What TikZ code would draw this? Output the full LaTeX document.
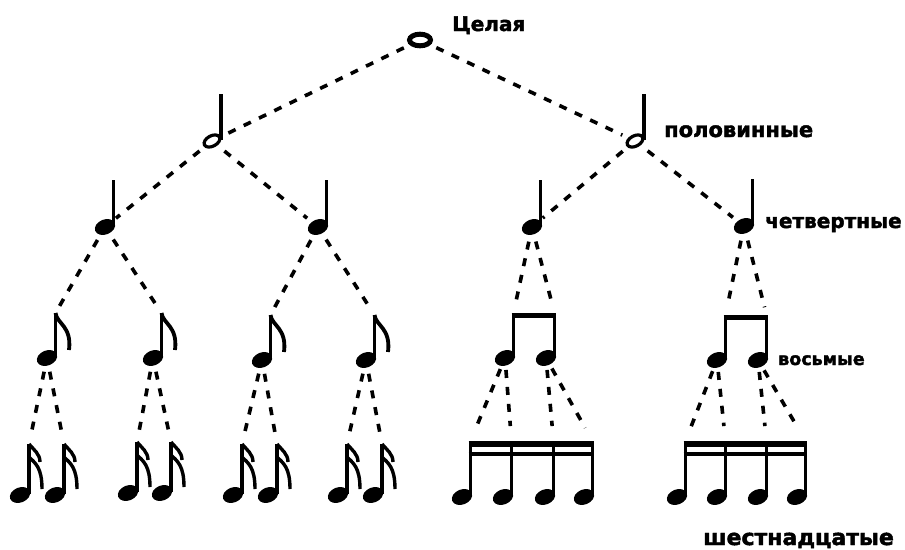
\documentclass[tikz,border=0pt]{standalone}
\usepackage{fontspec}
\setmainfont{DejaVu Sans}
\newfontfamily\labelfont[FakeBold=2]{DejaVu Sans}
\usetikzlibrary{calc}

\tikzset{
  link/.style={line width=3.6pt, dash pattern=on 8pt off 9pt},
  stem/.style={line width=3.8pt},
  notelabel/.style={anchor=base west, inner sep=0pt},
  % note shapes, head at the origin
  whole/.pic={\draw[line width=5pt] (0,0) ellipse [x radius=10.5, y radius=5.8];},
  half/.pic={\draw[line width=3.2pt, rotate=28] (0,0) ellipse [x radius=8.5, y radius=5.2];
    \draw[stem] (9,-1) -- (9,-47);
    \coordinate (-top) at (9,-47);},
  stemmed/.pic={\fill[rotate=22] (0,0) ellipse [x radius=10.5, y radius=7.5];
    \draw[stem] (8.5,-1) -- (8.5,-#1);
    \coordinate (-top) at (8.5,-#1);},
  eighth/.pic={\fill[rotate=22] (0,0) ellipse [x radius=10.5, y radius=7.5];
    \draw[stem] (8.5,-1) -- (8.5,-45);
    \draw[line width=3.8pt] (8.5,-45) .. controls (10,-34) and (25,-32) .. (22,-8);
    \coordinate (-top) at (8.5,-45);},
  sixteenth/.pic={\fill[rotate=22] (0,0) ellipse [x radius=10.5, y radius=7.5];
    \draw[stem] (9,-1) -- (9,-51);
    \draw[line width=3.4pt] (9,-51) .. controls (14,-45) and (20,-41) .. (20,-33);
    \draw[line width=3.4pt] (9,-38) .. controls (15,-32) and (22,-28) .. (22,-6);
    \coordinate (-top) at (9,-51);}
}

\begin{document}
\begin{tikzpicture}[x=1pt,y=-1pt]
\useasboundingbox (0,0) rectangle (905,549);

% whole and halves
\coordinate (w) at (420,40);
\coordinate (h1) at (212,141);
\coordinate (h2) at (635,141);
\pic at (w) {whole};
\pic (h1) at (h1) {half};
\pic (h2) at (h2) {half};

% quarters
\coordinate (q1) at (105,227);
\coordinate (q2) at (318,227);
\coordinate (q3) at (532,227);
\coordinate (q4) at (744,226);
\foreach \n in {q1,q2,q3,q4}
  \pic (\n) at (\n) {stemmed=47};

% eighths
\coordinate (e1) at (47,358);
\coordinate (e2) at (153,358);
\coordinate (e3) at (262,360);
\coordinate (e4) at (366,360);
\foreach \n in {e1,e2,e3,e4}
  \pic (\n) at (\n) {eighth};
\coordinate (b1) at (505,358);
\coordinate (b2) at (546,358);
\coordinate (b3) at (717,360);
\coordinate (b4) at (758,360);
\foreach \n in {b1,b2,b3,b4}
  \pic (\n) at (\n) {stemmed=45};
\draw[line width=5.5pt] ($(b1-top)+(-1.9,2.7)$) -- ($(b2-top)+(1.9,2.7)$);
\draw[line width=5.5pt] ($(b3-top)+(-1.9,2.7)$) -- ($(b4-top)+(1.9,2.7)$);

% sixteenths
\foreach \n/\x/\y in {s1/20/495, s2/55/495, s3/128/493, s4/162/493,
                      s5/233/495, s6/268/495, s7/338/495, s8/373/495} {
  \coordinate (\n) at (\x,\y);
  \pic (\n) at (\n) {sixteenth};
}
\foreach \n/\x in {t1/462, t2/503, t3/545, t4/584, t5/677, t6/717, t7/758, t8/797} {
  \coordinate (\n) at (\x,497);
  \pic (\n) at (\n) {stemmed=56};
}
\draw[line width=6.5pt] ($(t1-top)+(-1.9,3.2)$) -- ($(t4-top)+(1.9,3.2)$);
\draw[line width=3.8pt] ($(t1-top)+(-1.9,13)$) -- ($(t4-top)+(1.9,13)$);
\draw[line width=6.5pt] ($(t5-top)+(-1.9,3.2)$) -- ($(t8-top)+(1.9,3.2)$);
\draw[line width=3.8pt] ($(t5-top)+(-1.9,13)$) -- ($(t8-top)+(1.9,13)$);

% dashed links
\draw[link, shorten <=18pt, shorten >=14pt] (w) -- (h1);
\draw[link, shorten <=18pt, shorten >=14pt] (w) -- (h2);
\foreach \a/\b in {h1/q1, h1/q2, h2/q3, h2/q4}
  \draw[link, shorten <=16pt, shorten >=14pt] (\a) -- (\b);
\foreach \a/\b in {q1/e1, q1/e2, q2/e3, q2/e4, q3/b1, q3/b2, q4/b3, q4/b4}
  \draw[link, shorten <=15pt, shorten >=8pt] (\a) -- (\b-top);
\foreach \a/\b in {e1/s1, e1/s2, e2/s3, e2/s4, e3/s5, e3/s6, e4/s7, e4/s8}
  \draw[link, shorten <=14pt, shorten >=10pt] (\a) -- (\b-top);
\foreach \a/\b in {b1/t1, b1/t2, b2/t3, b2/t4, b3/t5, b3/t6, b4/t7, b4/t8}
  \draw[link, shorten <=12pt, shorten >=15pt] (\a) -- (\b-top);

% labels
\node (lw) [notelabel, font=\labelfont\bfseries\fontsize{20}{21}\selectfont] at (452,31) {Целая};
\node (lh) [notelabel, font=\labelfont\bfseries\fontsize{21}{22}\selectfont] at (664,137) {половинные};
\node (lq) [notelabel, font=\labelfont\bfseries\fontsize{20}{21}\selectfont] at (765,228) {четвертные};
\node (le) [notelabel, font=\labelfont\bfseries\fontsize{17.5}{18}\selectfont] at (778,365) {восьмые};
\node (ls) [notelabel, font=\labelfont\bfseries\fontsize{22}{23}\selectfont] at (703,545) {шестнадцатые};
\end{tikzpicture}
\end{document}
